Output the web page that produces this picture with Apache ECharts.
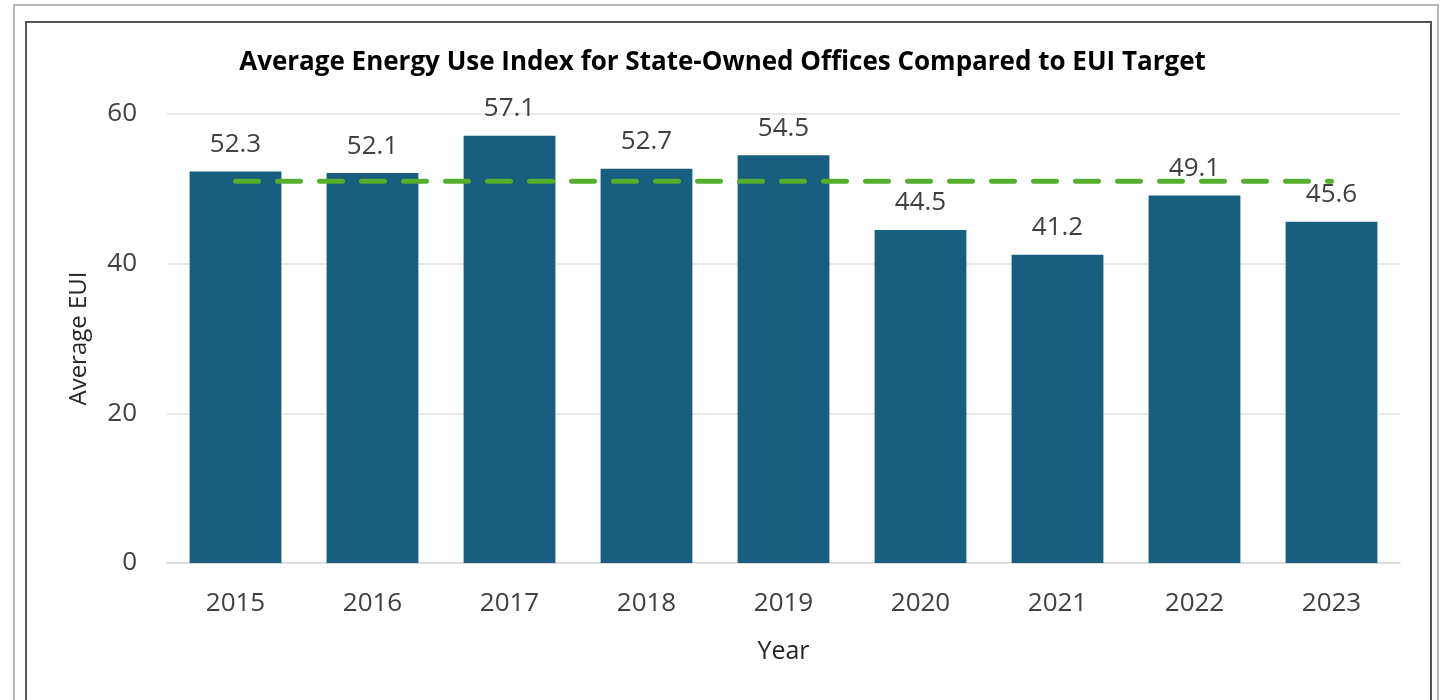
<!DOCTYPE html>
<html>
<head>
<meta charset="utf-8">
<script src="https://cdn.jsdelivr.net/npm/echarts@6/dist/echarts.min.js"></script>
<style>
html,body{margin:0;padding:0;background:#fff;}
#chart{width:1445px;height:700px;}
</style>
</head>
<body>
<div id="chart"></div>
<script>
const years = ['2015','2016','2017','2018','2019','2020','2021','2022','2023'];
const avgEUI = [52.3, 52.1, 57.1, 52.7, 54.5, 44.5, 41.2, 49.1, 45.6];
const euiTarget = [51, 51, 51, 51, 51, 51, 51, 51, 51];
const yTicks = [0, 20, 40, 60];

const FONT = '"Open Sans", sans-serif';
const chart = echarts.init(document.getElementById('chart'));
chart.setOption({
  animation: false,
  backgroundColor: '#fff',
  title: {
    text: 'Average Energy Use Index for State-Owned Offices Compared to EUI Target',
    left: 'center', top: 45,
    textStyle: {fontFamily: FONT, fontWeight: 'bold', fontSize: 26, color: '#000'}
  },
  graphic: [
    {type: 'rect', shape: {x: 14, y: 5, width: 1424, height: 720}, style: {fill: 'none', stroke: '#a0a0a0', lineWidth: 1.5}},
    {type: 'rect', shape: {x: 26, y: 22, width: 1405, height: 720}, style: {fill: 'none', stroke: '#555', lineWidth: 2}}
  ],
  grid: {left: 167, right: 45, top: 114, bottom: 137},
  xAxis: {
    type: 'category', data: years,
    name: 'Year', nameLocation: 'middle', nameGap: 76,
    nameTextStyle: {fontFamily: FONT, fontSize: 25, color: '#262626'},
    axisLine: {lineStyle: {color: '#d9d9d9', width: 1.5}},
    axisTick: {show: false},
    axisLabel: {fontFamily: FONT, fontSize: 26, color: '#404040', margin: 28}
  },
  yAxis: {
    type: 'value', min: yTicks[0], max: yTicks[yTicks.length-1], interval: 20,
    name: 'Average EUI', nameLocation: 'middle', nameGap: 76,
    nameTextStyle: {fontFamily: FONT, fontSize: 24, color: '#262626'},
    axisLine: {show: false}, axisTick: {show: false},
    splitLine: {lineStyle: {color: '#e0e0e0', width: 1.5}},
    axisLabel: {fontFamily: FONT, fontSize: 26, color: '#404040', margin: 30}
  },
  series: [
    {
      type: 'bar', data: avgEUI, barWidth: '67%',
      itemStyle: {color: '#185E7F'},
      label: {show: true, position: 'top', distance: 14, fontFamily: FONT, fontSize: 26, color: '#404040', formatter: p => p.value.toFixed(1)}
    },
    {
      type: 'line', data: euiTarget, symbol: 'none', z: 5,
      lineStyle: {color: '#56AE2D', width: 5, type: [23, 19], cap: 'round'}
    }
  ]
});
</script>
</body>
</html>
